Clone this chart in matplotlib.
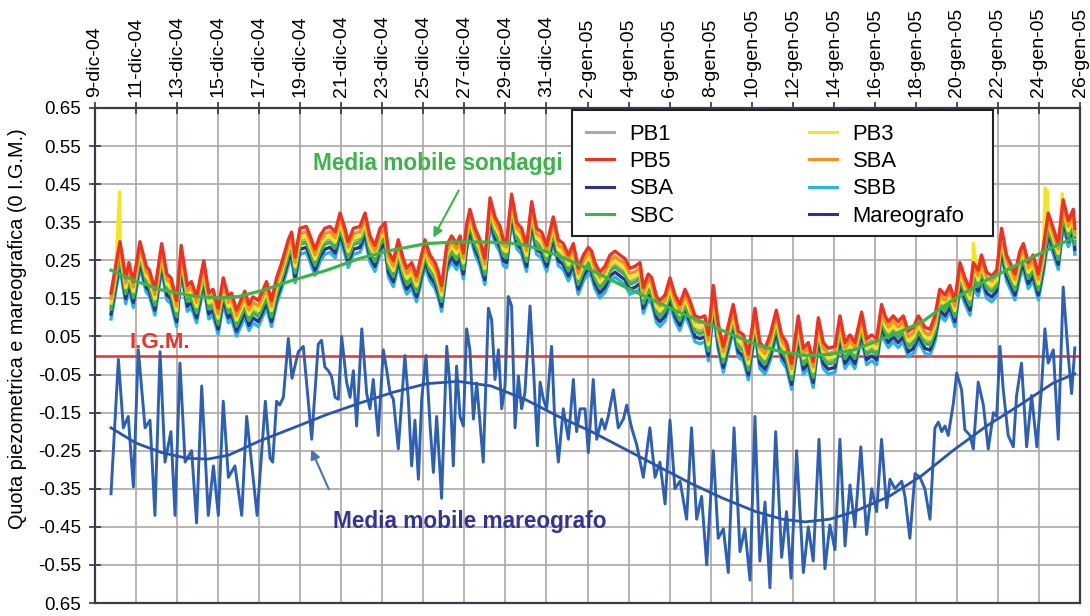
import matplotlib
matplotlib.use("Agg")
import matplotlib.pyplot as plt
from matplotlib.lines import Line2D
from matplotlib.patches import Rectangle

plt.rcParams['font.family'] = ['Liberation Sans', 'DejaVu Sans']

# ---- axis labels -------------------------------------------------------
date_labels = ["9-dic-04", "11-dic-04", "13-dic-04", "15-dic-04", "17-dic-04",
               "19-dic-04", "21-dic-04", "23-dic-04", "25-dic-04", "27-dic-04",
               "29-dic-04", "31-dic-04", "2-gen-05", "4-gen-05", "6-gen-05",
               "8-gen-05", "10-gen-05", "12-gen-05", "14-gen-05", "16-gen-05",
               "18-gen-05", "20-gen-05", "22-gen-05", "24-gen-05", "26-gen-05"]
tick_days = list(range(0, 49, 2))          # days since 9-dic-04
y_ticks = [0.65, 0.55, 0.45, 0.35, 0.25, 0.15, 0.05, -0.05, -0.15, -0.25,
           -0.35, -0.45, -0.55, -0.65]
y_tick_labels = ["0.65", "0.55", "0.45", "0.35", "0.25", "0.15", "0.05",
                 "-0.05", "-0.15", "-0.25", "-0.35", "-0.45", "-0.55", "0.65"]

# ---- tide gauge (mareografo): day since 9-dic-04, level (m) ------------
mareo_day = [0.78, 1.14, 1.38, 1.62, 1.87, 2.11, 2.44, 2.68, 2.92, 3.17, 3.41, 3.70,
             3.90, 4.14, 4.39, 4.71, 4.95, 5.20, 5.52, 5.77, 6.01, 6.25, 6.50, 6.82,
             7.15, 7.39, 7.90, 8.30, 8.53, 8.66, 8.85, 9.00, 9.18, 9.42, 9.60, 9.91,
             10.15, 10.56, 10.88, 11.04, 11.20, 11.37, 11.53, 11.70, 11.86, 12.02,
             12.26, 12.43, 12.59, 12.75, 13.00, 13.24, 13.40, 13.56, 13.80, 14.05,
             14.21, 14.38, 14.54, 14.78, 14.94, 15.10, 15.27, 15.43, 15.59, 15.76,
             15.92, 16.13, 16.33, 16.49, 16.65, 16.89, 17.14, 17.30, 17.46, 17.62,
             17.79, 17.95, 18.11, 18.27, 18.44, 18.60, 18.92, 19.17, 19.33, 19.49,
             19.66, 19.82, 19.98, 20.14, 20.30, 20.47, 20.63, 20.79, 20.95, 21.20,
             21.36, 21.56, 21.69, 21.85, 22.01, 22.25, 22.41, 22.58, 22.82, 23.07,
             23.31, 23.47, 23.64, 23.88, 24.04, 24.28, 24.45, 24.69, 24.85, 25.01,
             25.26, 25.50, 25.75, 25.91, 26.15, 26.40, 26.72, 27.04, 27.29, 27.53,
             27.78, 28.02, 28.26, 28.51, 28.83, 29.07, 29.32, 29.56, 29.81, 30.13,
             30.37, 30.62, 30.86, 31.14, 31.43, 31.67, 31.92, 32.16, 32.40, 32.65,
             32.89, 33.17, 33.46, 33.70, 33.92, 34.19, 34.52, 34.76, 35.00, 35.28,
             35.57, 35.81, 36.06, 36.30, 36.55, 36.79, 37.03, 37.32, 37.60, 37.85,
             38.09, 38.33, 38.58, 38.74, 38.98, 39.31, 39.47, 39.71, 39.96, 40.20,
             40.44, 40.69, 40.93, 41.10, 41.26, 41.42, 41.58, 41.83, 41.99, 42.23,
             42.39, 42.64, 42.80, 43.04, 43.29, 43.53, 43.78, 43.94, 44.10, 44.26,
             44.50, 44.75, 44.91, 45.15, 45.40, 45.64, 45.90, 46.13, 46.29, 46.45,
             46.70, 46.94, 47.18, 47.43, 47.59, 47.75]
mareo_level = [-0.363, -0.010, -0.190, -0.160, -0.345, 0.015, -0.190, -0.170, -0.420,
               0.010, -0.280, -0.200, -0.420, -0.020, -0.280, -0.250, -0.440, -0.080,
               -0.420, -0.290, -0.420, -0.120, -0.320, -0.290, -0.420, -0.160, -0.420,
               -0.120, -0.270, -0.280, -0.120, -0.130, -0.110, 0.045, -0.060, 0.010,
               0.024, -0.220, 0.030, 0.040, -0.030, -0.040, -0.055, -0.110, -0.115,
               0.050, -0.070, -0.110, -0.040, -0.185, 0.070, -0.100, -0.140, -0.063,
               -0.210, 0.015, -0.037, -0.098, -0.115, -0.245, -0.125, 0.000, -0.115,
               -0.290, -0.170, -0.325, -0.115, 0.000, -0.185, -0.307, -0.160, -0.375,
               0.024, -0.080, -0.290, -0.028, -0.160, -0.185, 0.070, 0.015, -0.167,
               -0.072, -0.280, 0.124, 0.094, -0.063, 0.015, -0.140, -0.080, 0.155,
               0.130, -0.190, -0.054, -0.140, -0.098, 0.130, -0.028, -0.237, -0.070,
               -0.115, -0.140, 0.024, -0.180, -0.280, -0.140, -0.220, -0.063, -0.200,
               -0.140, -0.140, -0.255, -0.063, -0.220, -0.167, -0.193, -0.160, -0.090,
               -0.190, -0.167, -0.130, -0.190, -0.235, -0.320, -0.190, -0.320, -0.280,
               -0.390, -0.170, -0.350, -0.330, -0.430, -0.190, -0.430, -0.370, -0.550,
               -0.250, -0.480, -0.455, -0.570, -0.190, -0.515, -0.455, -0.590, -0.160,
               -0.540, -0.385, -0.610, -0.200, -0.530, -0.410, -0.585, -0.250, -0.570,
               -0.450, -0.540, -0.220, -0.560, -0.445, -0.510, -0.220, -0.500, -0.340,
               -0.450, -0.240, -0.470, -0.350, -0.410, -0.220, -0.400, -0.325, -0.350,
               -0.330, -0.370, -0.480, -0.310, -0.320, -0.350, -0.430, -0.190, -0.175,
               -0.200, -0.185, -0.210, -0.125, -0.046, -0.090, -0.195, -0.210, -0.246,
               -0.070, -0.130, -0.246, -0.150, -0.160, 0.024, -0.090, -0.210, -0.240,
               -0.105, -0.020, -0.240, -0.105, -0.240, -0.080, 0.070, -0.020, 0.015,
               -0.220, 0.180, -0.003, -0.100, 0.020]

# moving average of the tide gauge
mareo_ma_day = [0.78, 2.0, 3.25, 4.5, 5.5, 6.5, 8.0, 9.66, 11.3, 12.9, 14.5, 16.16,
                17.7, 19.3, 20.95, 22.58, 24.2, 25.8, 27.4, 29.0, 30.6, 32.2, 33.5,
                34.6, 35.8, 37.0, 38.7, 40.3, 41.8, 43.45, 45.07, 46.7, 47.75]
mareo_ma_level = [-0.190, -0.230, -0.255, -0.270, -0.272, -0.262, -0.225, -0.190,
                  -0.155, -0.125, -0.097, -0.074, -0.068, -0.080, -0.115, -0.160,
                  -0.200, -0.245, -0.290, -0.335, -0.375, -0.410, -0.430, -0.437,
                  -0.430, -0.410, -0.370, -0.315, -0.250, -0.185, -0.130, -0.072,
                  -0.048]

# ---- piezometric wells (sondaggi): common signal (m) -------------------
sond_day = [0.78, 1.00, 1.22, 1.50, 1.65, 1.87, 2.19, 2.50, 2.65, 2.92, 3.25, 3.50,
            3.70, 3.98, 4.20, 4.50, 4.70, 4.95, 5.30, 5.55, 5.75, 6.00, 6.25, 6.50,
            6.65, 6.90, 7.30, 7.50, 7.70, 7.96, 8.36, 8.60, 8.85, 9.10, 9.42, 9.58,
            9.75, 9.99, 10.30, 10.48, 10.72, 10.96, 11.20, 11.45, 11.70, 11.94,
            12.18, 12.34, 12.59, 12.91, 13.16, 13.40, 13.64, 13.89, 14.13, 14.30,
            14.54, 14.78, 15.02, 15.19, 15.43, 15.67, 16.00, 16.08, 16.32, 16.57,
            16.73, 16.89, 17.14, 17.38, 17.62, 17.79, 17.95, 18.11, 18.27, 18.52,
            18.76, 19.00, 19.25, 19.49, 19.74, 19.90, 20.06, 20.30, 20.55, 20.79,
            21.03, 21.28, 21.52, 21.77, 22.01, 22.33, 22.58, 22.82, 23.07, 23.31,
            23.55, 23.80, 24.04, 24.20, 24.36, 24.60, 24.85, 25.10, 25.34, 25.58,
            25.83, 26.07, 26.31, 26.56, 26.72, 26.96, 27.13, 27.37, 27.53, 27.78,
            28.02, 28.26, 28.50, 28.75, 28.99, 29.24, 29.48, 29.72, 29.89, 30.13,
            30.37, 30.62, 31.10, 31.35, 31.60, 31.84, 32.16, 32.40, 32.65, 32.90,
            33.20, 33.46, 33.70, 33.95, 34.27, 34.52, 34.76, 35.00, 35.25, 35.49,
            35.73, 36.06, 36.30, 36.55, 36.79, 37.03, 37.36, 37.60, 37.85, 38.09,
            38.33, 38.50, 38.66, 38.90, 39.14, 39.39, 39.63, 39.88, 40.12, 40.30,
            40.44, 40.69, 40.93, 41.17, 41.42, 41.66, 41.90, 42.15, 42.39, 42.64,
            42.80, 43.04, 43.20, 43.45, 43.70, 43.94, 44.18, 44.42, 44.59, 44.83,
            45.07, 45.24, 45.48, 45.72, 45.97, 46.21, 46.45, 46.70, 46.94, 47.18,
            47.43, 47.67, 47.75]
sond_level = [0.130, 0.200, 0.265, 0.170, 0.210, 0.160, 0.265, 0.200, 0.190, 0.140,
              0.260, 0.180, 0.170, 0.110, 0.255, 0.150, 0.160, 0.120, 0.215, 0.130,
              0.140, 0.090, 0.170, 0.120, 0.130, 0.085, 0.135, 0.100, 0.120, 0.110,
              0.160, 0.110, 0.170, 0.210, 0.270, 0.290, 0.225, 0.300, 0.305, 0.280,
              0.245, 0.280, 0.300, 0.305, 0.290, 0.340, 0.300, 0.265, 0.300, 0.305,
              0.340, 0.280, 0.255, 0.300, 0.315, 0.240, 0.215, 0.270, 0.220, 0.195,
              0.210, 0.175, 0.250, 0.270, 0.230, 0.210, 0.185, 0.150, 0.255, 0.280,
              0.260, 0.280, 0.235, 0.310, 0.350, 0.300, 0.270, 0.220, 0.380, 0.330,
              0.305, 0.270, 0.265, 0.390, 0.315, 0.300, 0.255, 0.370, 0.300, 0.290,
              0.255, 0.330, 0.270, 0.260, 0.230, 0.260, 0.195, 0.230, 0.250, 0.240,
              0.210, 0.185, 0.200, 0.230, 0.240, 0.230, 0.220, 0.195, 0.200, 0.210,
              0.145, 0.180, 0.170, 0.120, 0.110, 0.125, 0.170, 0.125, 0.100, 0.140,
              0.110, 0.070, 0.065, 0.070, 0.020, 0.150, 0.050, -0.010, 0.100, 0.030,
              0.020, -0.030, 0.090, 0.000, -0.015, 0.020, 0.085, 0.020, 0.000, -0.055,
              0.070, -0.015, 0.000, -0.050, 0.065, 0.000, -0.015, -0.010, 0.070, 0.000,
              0.020, 0.000, 0.080, 0.010, 0.020, 0.010, 0.100, 0.070, 0.055, 0.070,
              0.055, 0.070, 0.030, 0.040, 0.070, 0.055, 0.040, 0.035, 0.070, 0.140,
              0.125, 0.150, 0.110, 0.210, 0.170, 0.140, 0.210, 0.190, 0.230, 0.185,
              0.175, 0.190, 0.300, 0.230, 0.210, 0.180, 0.240, 0.260, 0.210, 0.230,
              0.180, 0.250, 0.340, 0.300, 0.260, 0.375, 0.320, 0.350, 0.300]

# moving average of the wells
sond_ma_day = [0.78, 2.0, 3.25, 4.9, 6.1, 7.0, 8.1, 9.66, 11.3, 12.9, 14.5, 16.16,
               17.5, 19.0, 20.1, 21.0, 22.6, 24.2, 25.75, 27.0, 28.2, 29.5, 30.6,
               31.5, 32.16, 33.4, 34.6, 35.8, 37.0, 38.7, 40.3, 41.8, 43.45, 45.07,
               46.7, 47.75]
sond_ma_level = [0.224, 0.195, 0.172, 0.155, 0.151, 0.155, 0.170, 0.198, 0.224,
                 0.255, 0.277, 0.294, 0.298, 0.298, 0.296, 0.290, 0.262, 0.224,
                 0.182, 0.150, 0.120, 0.090, 0.065, 0.045, 0.030, 0.010, 0.000,
                 0.003, 0.015, 0.050, 0.088, 0.146, 0.198, 0.242, 0.285, 0.310]

# individual wells: offset from the common signal, colour
well_names = ["PB1", "SBB", "SBA", "SBC", "PB3", "SBA", "PB5"]
well_offsets = [0.000, -0.034, -0.021, -0.008, 0.008, 0.020, 0.034]
well_colors = ["#a7a7a7", "#27b4e6", "#2e3192", "#3db54a", "#f4e61e", "#f7901e", "#ee3124"]

# short peaks recorded by PB3 only
pb3_peak_day = [1.20, 42.80, 46.30, 46.42, 47.14]
pb3_peak_level = [0.430, 0.295, 0.440, 0.430, 0.425]

igm_level = 0.0

green = "#3cb44a"
navy = "#2e3192"
tide_blue = "#2d5fb4"
red = "#ee3124"

fig = plt.figure(figsize=(10.9, 6.16), dpi=100)
ax = fig.add_axes([95 / 1090, 13 / 616, 985 / 1090, 495 / 616])
ax.set_xlim(0, 48)
ax.set_ylim(-0.65, 0.65)

# wells
for name, off, col in zip(well_names, well_offsets, well_colors):
    days = list(sond_day)
    vals = [v + off for v in sond_level]
    if name == "PB3":
        pts = sorted(zip(days + pb3_peak_day, vals + pb3_peak_level))
        days = [p[0] for p in pts]
        vals = [p[1] for p in pts]
    ax.plot(days, vals, color=col, lw=2.4, zorder=3)

ax.plot(sond_ma_day, sond_ma_level, color=green, lw=2.3, zorder=5)

# I.G.M. datum
ax.axhline(igm_level, color=red, lw=1.8, zorder=2)

# tide gauge
ax.plot(mareo_day, mareo_level, color=tide_blue, lw=2.1, zorder=4)
ax.plot(mareo_ma_day, mareo_ma_level, color="#2b55ad", lw=2.0, zorder=5)

# ticks and grid
ax.xaxis.tick_top()
ax.set_xticks(tick_days)
ax.set_xticklabels(date_labels, rotation=90, fontsize=14)
ax.set_yticks(y_ticks)
ax.set_yticklabels(y_tick_labels, fontsize=13.5)
ax.tick_params(axis='both', direction='inout', length=8, width=1.2, color='#333340')
ax.tick_params(axis='x', pad=4)
ax.tick_params(axis='y', pad=6)
ax.grid(True, color='#aea7a3', lw=1.2)
ax.set_axisbelow(True)
for sp in ax.spines.values():
    sp.set_linewidth(1.6)
    sp.set_color('#3a3a4a')

fig.text(18 / 1090, 1 - 329 / 616, "Quota piezometrica e mareografica (0 I.G.M.)",
         rotation=90, ha='center', va='center', fontsize=14.3)

# annotations
ax.text(16.69, 0.505, "Media mobile sondaggi", color=green, fontsize=16.3,
        fontweight='bold', ha='center', va='center', zorder=6)
ax.annotate("", xy=(16.42, 0.303), xytext=(17.79, 0.44),
            arrowprops=dict(arrowstyle='-|>', color=green, lw=1.5, mutation_scale=14),
            zorder=6)
ax.text(3.17, 0.033, "I.G.M.", color=red, fontsize=16.0, fontweight='bold',
        ha='center', va='center', zorder=6)
ax.text(18.27, -0.435, "Media mobile mareografo", color="#33339a", fontsize=16.3,
        fontweight='bold', ha='center', va='center', zorder=6)
ax.annotate("", xy=(10.48, -0.24), xytext=(11.45, -0.358),
            arrowprops=dict(arrowstyle='-|>', color="#4a72b8", lw=1.5, mutation_scale=14),
            zorder=6)

# legend: white box with a dark border, entries in two columns
box = Rectangle((572 / 1090, 1 - 236 / 616), (993 - 572) / 1090, 126 / 616,
                transform=fig.transFigure, facecolor='white', edgecolor='#222222',
                lw=1.5, zorder=9, clip_on=False)
ax.add_patch(box)
legend_names = ["PB1", "PB5", "SBA", "SBC", "PB3", "SBA", "SBB", "Mareografo"]
legend_colors = ["#a7a7a7", "#ee3124", "#2e3192", "#3db54a",
                 "#f4e61e", "#f7901e", "#27b4e6", navy]
handles = [Line2D([], [], color=c, lw=2.2) for c in legend_colors]
leg = ax.legend(handles, legend_names, ncol=2, loc='upper left',
                bbox_to_anchor=(572 / 1090, 1 - 110 / 616), bbox_transform=fig.transFigure,
                fontsize=15.8, frameon=False, handlelength=1.3, handletextpad=0.7,
                columnspacing=6.1, labelspacing=0.29, borderpad=0.62,
                borderaxespad=0)
leg.set_zorder(10)

fig.savefig("out.png", dpi=100, facecolor='white')
